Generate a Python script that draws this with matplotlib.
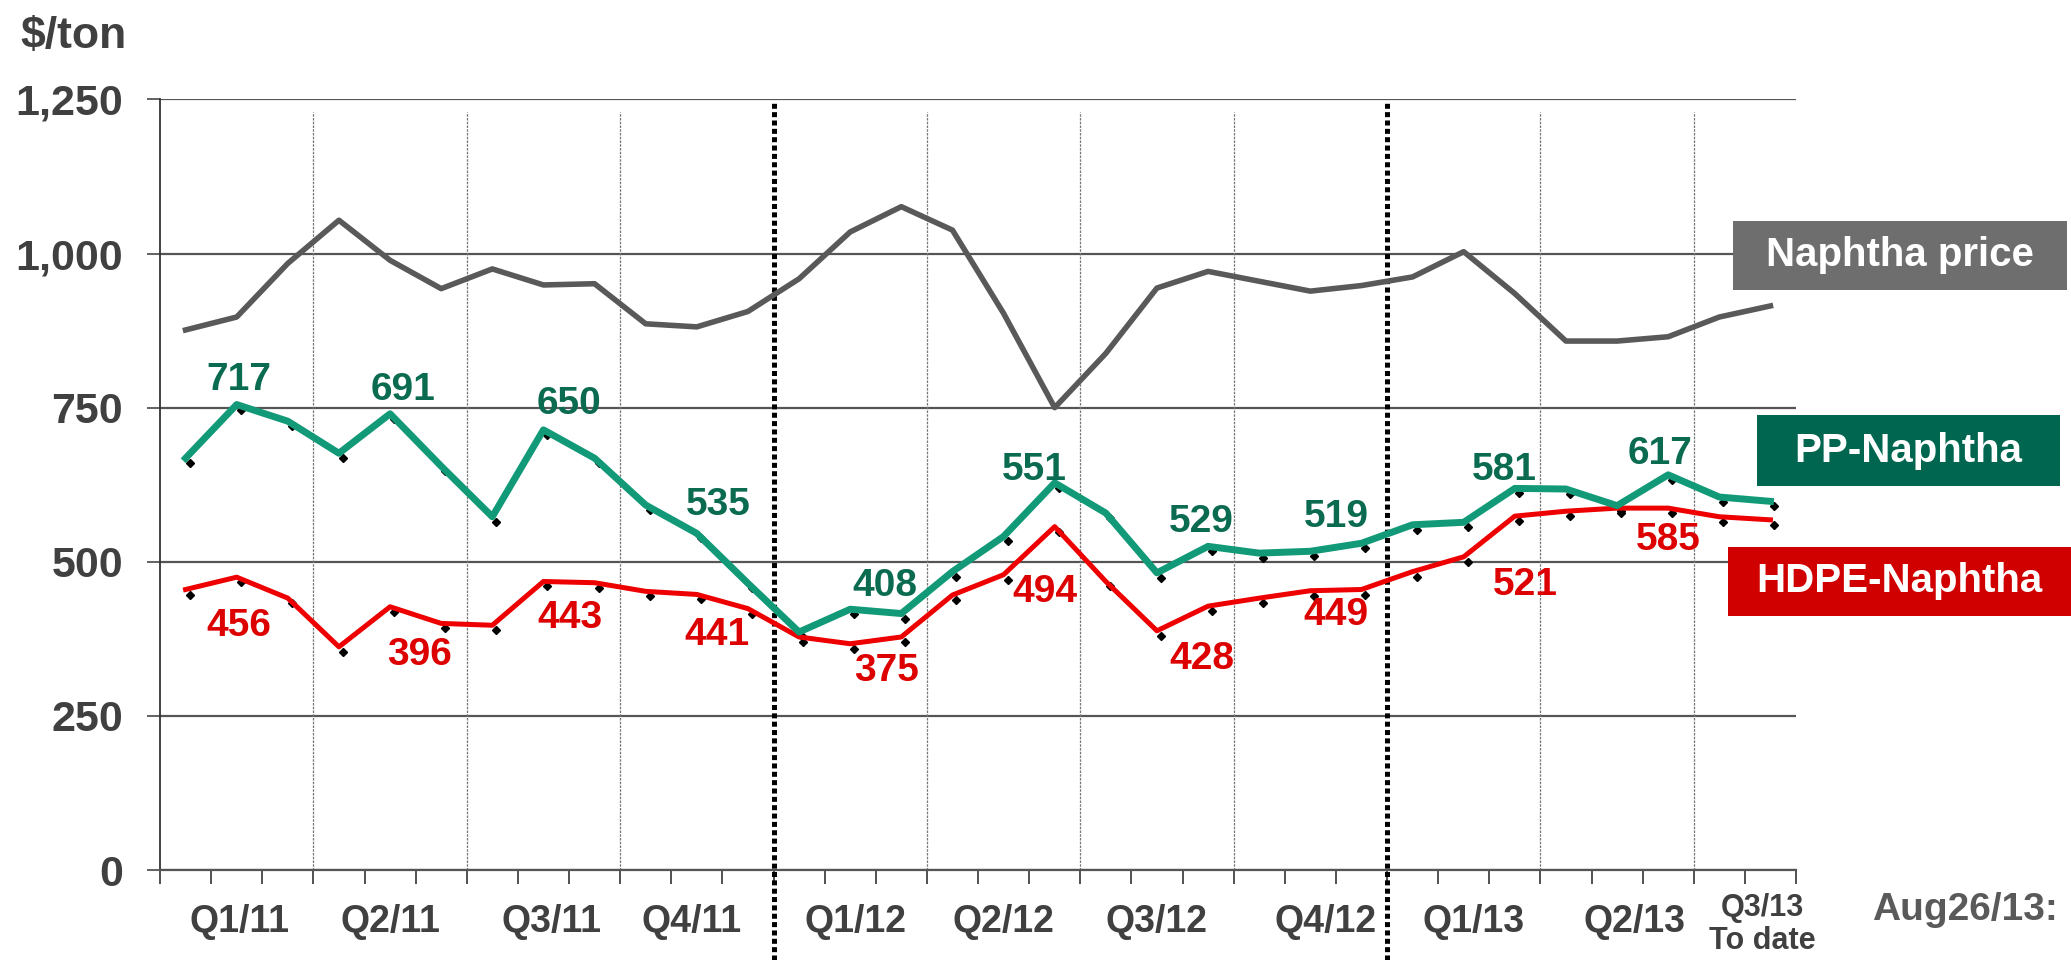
import numpy as np
import matplotlib.pyplot as plt
from matplotlib.patches import Rectangle
from matplotlib.transforms import ScaledTranslation, blended_transform_factory

plt.rcParams['font.family'] = ['Liberation Sans', 'DejaVu Sans']
plt.rcParams['font.weight'] = 'bold'

# monthly values, Jan 2011 .. Aug 2013 ($/ton)
months = np.arange(32)
naphtha = [876, 897, 984, 1054, 989, 943, 975, 949, 951, 886, 881, 906,
           959, 1035, 1076, 1038, 903, 750, 838, 944, 971, 955, 939, 948,
           962, 1003, 935, 858, 858, 865, 897, 915]
pp = [668, 755, 728, 676, 740, 655, 573, 714, 668, 592, 546, 465,
      386, 423, 416, 484, 541, 628, 579, 482, 525, 514, 517, 530,
      560, 564, 619, 618, 591, 641, 605, 598]
hdpe = [455, 475, 441, 362, 427, 400, 397, 468, 466, 452, 447, 424,
        378, 367, 378, 446, 479, 557, 468, 388, 428, 441, 453, 455,
        484, 508, 574, 582, 587, 587, 573, 568]

# quarterly average labels
pp_lab = ['717', '691', '650', '535', '408', '551', '529', '519', '581', '617']
pp_lab_x = [1.05, 4.26, 7.5, 10.43, 13.68, 16.6, 19.87, 22.5, 25.8, 28.84]
pp_lab_y = [795, 779, 756, 592, 460, 649, 565, 573, 649, 674]
hdpe_lab = ['456', '396', '443', '441', '375', '494', '428', '449', '521', '585']
hdpe_lab_x = [1.04, 4.58, 7.51, 10.4, 13.71, 16.8, 19.87, 22.5, 26.2, 29.0]
hdpe_lab_y = [395, 349, 408, 381, 322, 451, 343, 414, 462, 535]

quarters = ['Q1/11', 'Q2/11', 'Q3/11', 'Q4/11', 'Q1/12', 'Q2/12',
            'Q3/12', 'Q4/12', 'Q1/13', 'Q2/13']
quarter_x = [1.05, 4.0, 7.15, 9.9, 13.1, 16.0, 19.0, 22.3, 25.2, 28.35]

W, H = 2071, 960
fig = plt.figure(figsize=(W / 100, H / 100), dpi=100)
ax = fig.add_axes([160 / W, 90 / H, 1636 / W, 770.6 / H])

gray, green, red = '#595959', '#129a78', '#ee0000'
txt = '#404040'

# black diamonds sit slightly below/right of the line vertices
off = ax.transData + ScaledTranslation(4 / 100, -5 / 100, fig.dpi_scale_trans)
ax.plot(months, hdpe, ls='none', marker='D', ms=4, color='k', transform=off, zorder=3)
ax.plot(months, pp, ls='none', marker='D', ms=4, color='k', transform=off, zorder=3)

ax.plot(months, naphtha, color=gray, lw=4.0, zorder=4)
ax.plot(months, hdpe, color=red, lw=3.6, zorder=4)
ax.plot(months, pp, color=green, lw=5.0, zorder=5)

for s, x, y in zip(pp_lab, pp_lab_x, pp_lab_y):
    ax.text(x, y, s, ha='center', va='center', fontsize=28, color='#0b6b50', zorder=6)
for s, x, y in zip(hdpe_lab, hdpe_lab_x, hdpe_lab_y):
    ax.text(x, y, s, ha='center', va='center', fontsize=28, color='#dd0000', zorder=6)

ax.set_xlim(-0.5, 31.5)
ax.set_ylim(0, 1250)
yt = [0, 250, 500, 750, 1000, 1250]
ax.set_yticks(yt)
ax.set_yticklabels([f'{v:,}' for v in yt])
ax.yaxis.grid(True, color='#555555', lw=1.6)
ax.set_axisbelow(True)
ax.set_xticks(np.arange(-0.5, 32, 1))
ax.set_xticklabels([])
for sp in ['top', 'right']:
    ax.spines[sp].set_visible(False)
ax.spines['left'].set_color('#333333')
ax.spines['left'].set_linewidth(1.3)
ax.spines['bottom'].set_color('#555555')
ax.spines['bottom'].set_linewidth(1.6)
ax.tick_params(axis='y', length=9.5, width=1.3, color='#555555', pad=17,
               labelsize=31, labelcolor=txt)
ax.tick_params(axis='x', length=10, width=1.2, color='#333333')

# quarter separators
ax.vlines([2.5, 5.5, 8.5, 14.5, 17.5, 20.5, 26.5, 29.5], 0, 1230,
          colors='#777777', lw=0.9, linestyles=(0, (2, 1)), zorder=1)
tr = blended_transform_factory(ax.transData, ax.transAxes)
for xv in [11.5, 23.5]:
    ax.plot([xv, xv], [-0.117, 0.995], transform=tr, clip_on=False,
            color='k', lw=3.6, dashes=(1.0, 0.67), zorder=2)

for q, x in zip(quarters, quarter_x):
    ax.text(x, -0.068, q, transform=tr, ha='center', va='center',
            fontsize=27, color=txt)
ax.text(30.85, -0.071, 'Q3/13\nTo date', transform=tr, ha='center', va='center',
        fontsize=22, color=txt, linespacing=1.15)

fig.text(20 / W, 1 - 48 / H, r'\$/ton', ha='left', va='baseline', fontsize=32, color=txt)
fig.text(1872 / W, 1 - 920 / H, 'Aug26/13:', ha='left', va='baseline',
         fontsize=28, color='#5a5a5a')

# legend boxes
boxes = [('Naphtha price', '#6e6e6e', 1733, 2067, 221, 290),
         ('PP-Naphtha', '#00664f', 1757, 2060, 415, 486),
         ('HDPE-Naphtha', '#d00000', 1728, 2071, 547, 616)]
for label, col, x0, x1, y0, y1 in boxes:
    fig.add_artist(Rectangle((x0 / W, 1 - y1 / H), (x1 - x0) / W, (y1 - y0) / H,
                             transform=fig.transFigure, facecolor=col,
                             edgecolor='none', zorder=5))
    fig.text((x0 + x1) / 2 / W, 1 - (y0 + y1) / 2 / H, label, ha='center',
             va='center', fontsize=29, color='white', zorder=6)

fig.savefig('out.png', dpi=100)
